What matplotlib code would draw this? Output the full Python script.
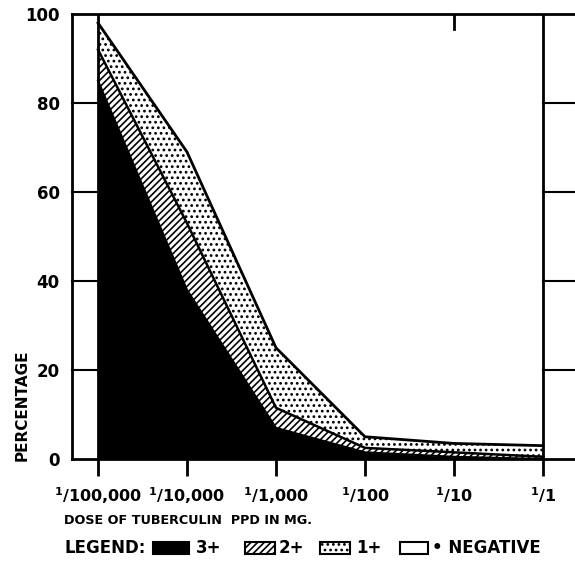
import matplotlib.pyplot as plt
from matplotlib.patches import Rectangle

plt.rcParams['hatch.linewidth'] = 1.2
plt.rcParams['font.family'] = 'DejaVu Sans'
plt.rcParams['mathtext.default'] = 'bf'

# Data -------------------------------------------------------------------
doses = ["$^1$/100,000", "$^1$/10,000", "$^1$/1,000", "$^1$/100", "$^1$/10", "$^1$/1"]
strong = [85, 38, 7, 1.5, 0.5, 0]        # 3+
medium = [7, 15, 4.5, 1, 1, 0.5]         # 2+
weak = [6, 16, 13.5, 2.5, 2, 2.5]        # 1+
yticks = [0, 20, 40, 60, 80, 100]

x = list(range(len(doses)))
c1 = strong
c2 = [a + b for a, b in zip(c1, medium)]
c3 = [a + b for a, b in zip(c2, weak)]

fig = plt.figure(figsize=(5.75, 5.62), dpi=100)
ax = fig.add_axes([72/575, 103/562, 503/575, 445/562])
ax.set_xlim(-0.292, 5.36)
ax.set_ylim(0, 100)

# stacked areas
ax.fill_between(x, 0, c1, color='black', lw=0)
ax.fill_between(x, c1, c2, facecolor='white', edgecolor='black',
                hatch='/////', lw=0)
ax.fill_between(x, c2, c3, facecolor='white', edgecolor='black',
                hatch='...', lw=0)
ax.plot(x, c1, color='black', lw=1.5)
ax.plot(x, c2, color='black', lw=1.8)
ax.plot(x, c3, color='black', lw=2)
ax.vlines([0, 5], 0, 100, color='black', lw=2)

# frame and ticks
for s in ['left', 'top', 'bottom']:
    ax.spines[s].set_linewidth(2)
ax.spines['right'].set_visible(False)
for yv in yticks[1:-1]:
    ax.plot([-0.292, 0], [yv, yv], color='black', lw=1.5, clip_on=False)
    ax.plot([5, 5.36], [yv, yv], color='black', lw=1.5, clip_on=False)
ax.plot([4, 4], [100, 96.6], color='black', lw=2)

ax.set_xticks(x)
ax.set_xticklabels(doses, fontsize=11.5, fontweight='bold')
ax.tick_params(axis='x', direction='out', length=12, width=2, pad=7)
ax.set_yticks(yticks)
ax.set_yticklabels([str(v) for v in yticks], fontsize=12, fontweight='bold')
ax.tick_params(axis='y', length=0, pad=9)

fig.text(22/575, 1 - 405/562, "PERCENTAGE", rotation=90, fontsize=11,
         fontweight='bold', ha='center', va='center')
fig.text(64/575, 1 - 521/562, "DOSE OF TUBERCULIN  PPD IN MG.", fontsize=9.2,
         fontweight='bold', ha='left', va='center')

# legend row
ly = 1 - 548/562
fig.text(64/575, ly, "LEGEND:", fontsize=12, fontweight='bold', va='center')
h = 12/562
boxes = [(153, 36, 'black', None, "3+", 196),
         (245, 30, 'white', '/////', "2+", 279),
         (320, 30, 'white', '...', "1+", 356),
         (400, 28, 'white', None, "• NEGATIVE", 432)]
for bx, bw, fc, ht, lab, tx in boxes:
    fig.patches.append(Rectangle((bx/575, ly - h/2), bw/575, h, transform=fig.transFigure,
                                 facecolor=fc, edgecolor='black', hatch=ht, lw=1.5))
    fig.text(tx/575, ly, lab, fontsize=12, fontweight='bold', va='center')

fig.savefig("out.png", dpi=100)
